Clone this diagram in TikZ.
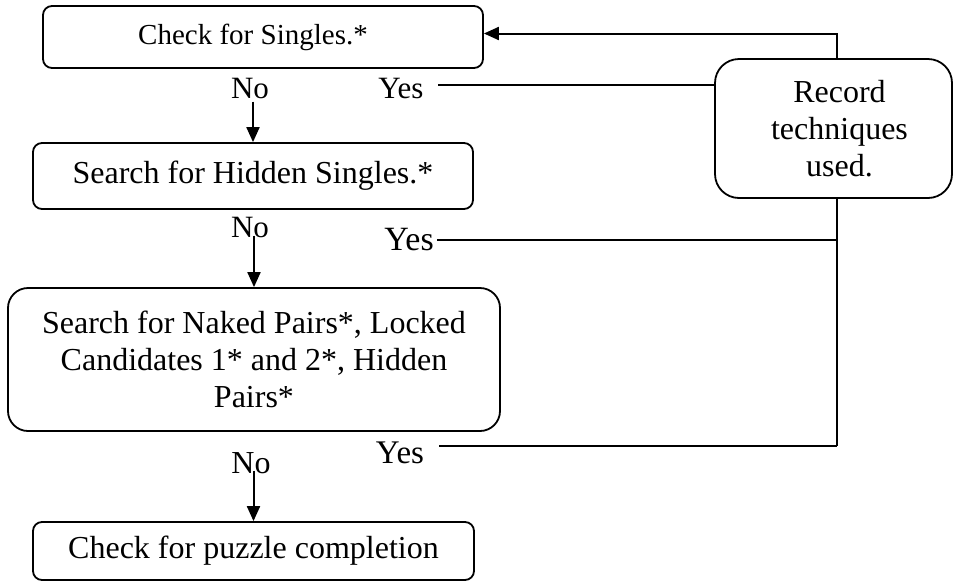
\documentclass[tikz,border=0pt]{standalone}
\usepackage{fontspec}
\setmainfont{Liberation Serif}
\usetikzlibrary{arrows.meta}
\begin{document}
\begin{tikzpicture}[x=1pt,y=-1pt,
  txt/.style={font=\fontsize{#1}{37}\selectfont},
  txt/.default=32,
  box/.style={txt, draw, line width=1.8pt, rounded corners=#1, align=center, inner sep=0pt},
  box/.default=9pt,
  lbl/.style={txt=#1, anchor=base, inner sep=0pt},
  lbl/.default=31,
  link/.style={line width=2pt},
  arr/.style={link, -{Triangle[length=15pt,width=13pt]}}]
\useasboundingbox (0,0) rectangle (954,582);

% process boxes
\node[box, txt=29, minimum width=440pt, minimum height=62pt] (s1) at (263,37)
  {Check for Singles.*\hspace*{20pt}};
\node[box, minimum width=440pt, minimum height=66pt] (s2) at (253,176)
  {Search for Hidden Singles.*};
\node[box=20pt, minimum width=492pt, minimum height=143pt] (s3) at (254,359.5)
  {Search for Naked Pairs*, Locked\\Candidates 1* and 2*, Hidden\\Pairs*};
\node[box, minimum width=441pt, minimum height=58pt] (s4) at (253.5,551)
  {Check for puzzle completion};
\node[box=24pt, minimum width=237pt, minimum height=139pt] (rec) at (833.5,128.5)
  {\hspace*{12pt}Record\\\hspace*{12pt}techniques\\\hspace*{12pt}used.};

% branch labels
\node[lbl] (no1) at (250,98) {No};
\node[lbl] (no2) at (250,237) {No};
\node[lbl=32] (no3) at (251,473) {No};
\node[lbl] (yes1) at (401,98) {Yes};
\node[lbl=34] (yes2) at (409,250) {Yes};
\node[lbl=33] (yes3) at (400,463) {Yes};

% "No" branches
\draw[arr] (s2.north |- no1.south) ++(0,3) -- (s2.north);
\draw[arr] (s3.north |- no2.south) ++(0,-2) -- (s3.north);
\draw[arr] (s4.north |- no3.south) ++(0,-3) -- (s4.north);

% "Yes" branches into the recording box and back to the start
\coordinate (top) at (837,33.5);
\coordinate (y1) at (438,85);
\coordinate (y2) at (437,240);
\coordinate (y3) at (439,446);
\coordinate (j2) at (837,240);
\coordinate (j3) at (837,446);
\draw[link] (y1) -- (y1 -| rec.west);
\draw[link] (y2) -- (j2);
\draw[link] (y3) -- (j3);
\draw[link] (j3) -- (rec.south -| j3);
\draw[arr] (rec.north -| top) -- (top) -- (top -| s1.east);
\end{tikzpicture}
\end{document}
